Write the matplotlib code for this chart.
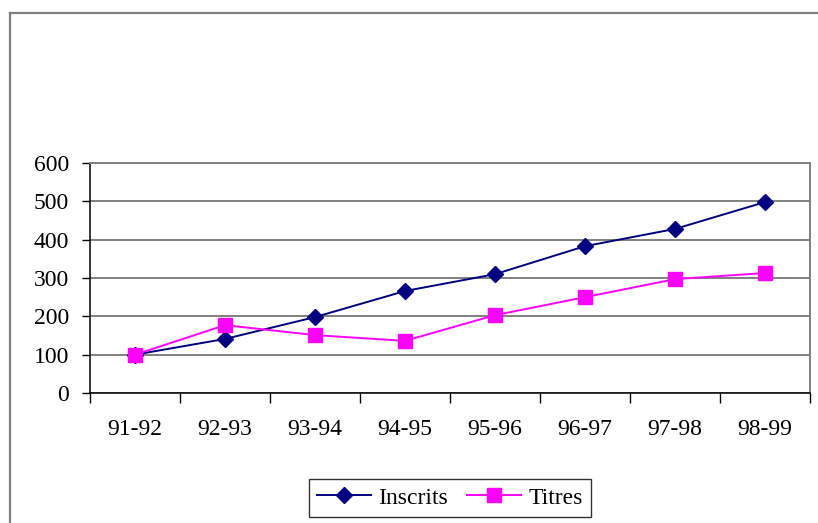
import matplotlib.pyplot as plt
from matplotlib.lines import Line2D
import numpy as np

# academic years and counts
years = ['91-92', '92-93', '93-94', '94-95', '95-96', '96-97', '97-98', '98-99']
inscrits = [100, 141, 198, 266, 310, 383, 428, 498]
titres = [100, 177, 151, 136, 203, 250, 297, 313]

plt.rcParams['font.family'] = ['Liberation Serif', 'DejaVu Serif']
FS = 17

W, H = 818, 523
fig = plt.figure(figsize=(W / 100, H / 100), dpi=100)

# chart frame (only left and top edges fall inside the canvas)
fx = 9.5 / W
fy = 1 - 13 / H
fig.add_artist(Line2D([fx, fx], [0, fy], transform=fig.transFigure,
                      color='#808080', lw=1.6))
fig.add_artist(Line2D([fx, 1], [fy, fy], transform=fig.transFigure,
                      color='#808080', lw=1.6))

ax = fig.add_axes((90 / W, 1 - 393 / H, 720 / W, 230 / H))

x = np.arange(len(years))
ax.plot(x, inscrits, color='#000080', lw=1.4, marker='D', ms=8.5,
        label='Inscrits', zorder=3)
ax.plot(x, titres, color='#FF00FF', lw=1.4, marker='s', ms=10,
        label='Titres', zorder=3)

ax.set_xlim(-0.5, len(years) - 0.5)
ax.set_ylim(0, 600)
ax.set_yticks(range(0, 601, 100))
ax.set_xticks(x)
ax.set_xticklabels(years)
ax.set_xticks(np.arange(-0.5, len(years), 1.0), minor=True)
ax.tick_params(axis='x', which='major', length=0, pad=19, labelsize=FS)
ax.tick_params(axis='x', which='minor', length=7, width=1, color='black')
ax.tick_params(axis='y', length=6, width=1, pad=9, labelsize=FS)

ax.grid(axis='y', color='#808080', lw=1.4)
ax.set_axisbelow(True)
for side in ('left', 'bottom'):
    ax.spines[side].set_color('black')
    ax.spines[side].set_linewidth(1.1)
for side in ('top', 'right'):
    ax.spines[side].set_color('#808080')
    ax.spines[side].set_linewidth(1.4)

leg = ax.legend(loc='center', bbox_to_anchor=(450 / W, 1 - 498 / H),
                bbox_transform=fig.transFigure, ncol=2, frameon=True,
                fancybox=False, edgecolor='black', fontsize=FS,
                handlelength=2.3, handletextpad=0.3, columnspacing=0.8,
                borderpad=0.35)
leg.get_frame().set_linewidth(1.0)

fig.savefig('out.png', dpi=100)
